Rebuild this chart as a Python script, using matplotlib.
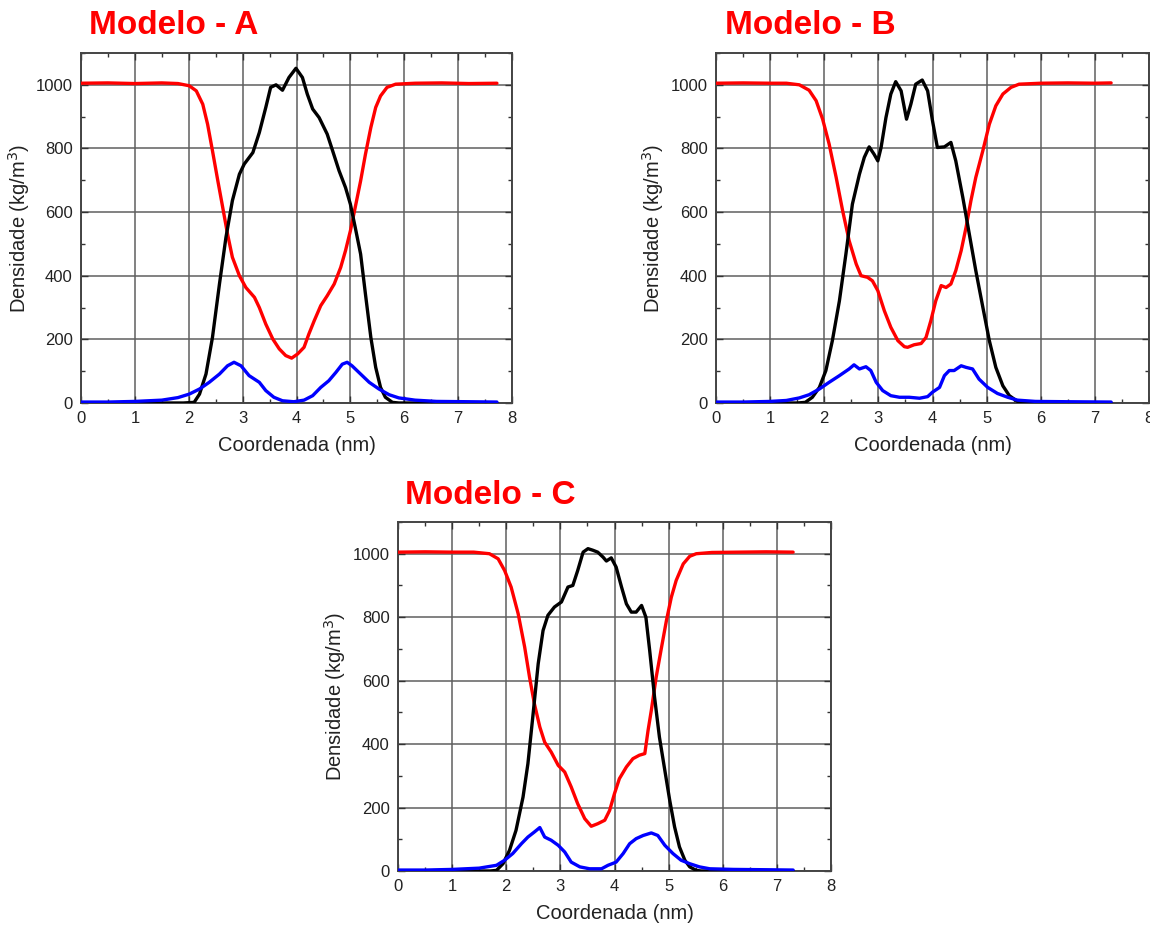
import matplotlib
matplotlib.use("Agg")
import matplotlib.pyplot as plt
from matplotlib.ticker import MultipleLocator

plt.rcParams['font.family'] = ['Liberation Sans', 'DejaVu Sans']

# ---------------- Modelo - A ----------------
a_agua_x = [0.0, 0.5, 1.0, 1.5, 1.8, 2.01, 2.14, 2.26, 2.35, 2.44, 2.54, 2.63, 2.72, 2.81,
            2.94, 3.06, 3.22, 3.31, 3.43, 3.56, 3.68, 3.80, 3.91, 4.02, 4.14, 4.23, 4.33,
            4.45, 4.57, 4.70, 4.82, 4.91, 5.00, 5.09, 5.19, 5.28, 5.38, 5.47, 5.56, 5.68,
            5.84, 6.2, 6.7, 7.2, 7.72]
a_agua_y = [1005, 1006, 1004, 1006, 1004, 997, 981, 939, 876, 793, 698, 615, 531, 458,
            400, 363, 332, 300, 248, 201, 170, 149, 141, 154, 175, 217, 259,
            306, 337, 374, 426, 479, 541, 615, 698, 782, 866, 929, 965, 992,
            1002, 1005, 1006, 1004, 1005]

a_nucleo_x = [0.0, 1.9, 2.1, 2.2, 2.32, 2.44, 2.57, 2.69, 2.81, 2.94, 3.03, 3.19, 3.31,
              3.43, 3.52, 3.62, 3.74, 3.86, 3.99, 4.11, 4.20, 4.30, 4.42, 4.57, 4.67,
              4.79, 4.91, 5.00, 5.09, 5.19, 5.28, 5.38, 5.47, 5.56, 5.65, 5.78, 5.9, 7.72]
a_nucleo_y = [0, 0, 2, 28, 91, 206, 374, 520, 636, 719, 751, 787, 850,
              929, 992, 1000, 983, 1023, 1052, 1023, 971, 924, 897, 845, 793,
              730, 677, 625, 552, 468, 342, 206, 112, 49, 18, 2, 0, 0]

a_interface_x = [0.0, 0.5, 1.0, 1.5, 1.8, 2.01, 2.2, 2.38, 2.57, 2.72, 2.84, 2.97, 3.12,
                 3.31, 3.43, 3.58, 3.74, 3.95, 4.14, 4.30, 4.45, 4.60, 4.73, 4.85, 4.94,
                 5.03, 5.19, 5.35, 5.53, 5.72, 5.90, 6.2, 6.6, 7.2, 7.72]
a_interface_y = [3, 3, 5, 9, 17, 28, 44, 65, 91, 117, 128, 117, 86,
                 65, 39, 18, 7, 4, 9, 23, 49, 70, 96, 122, 128,
                 117, 91, 65, 44, 26, 16, 9, 5, 4, 3]

# ---------------- Modelo - B ----------------
b_agua_x = [0.0, 0.5, 1.0, 1.3, 1.54, 1.72, 1.85, 1.97, 2.09, 2.22, 2.34, 2.46, 2.59,
            2.68, 2.80, 2.89, 2.99, 3.11, 3.23, 3.36, 3.48, 3.54, 3.66, 3.79, 3.88,
            3.97, 4.06, 4.16, 4.25, 4.34, 4.43, 4.53, 4.62, 4.71, 4.80, 4.93, 5.05,
            5.17, 5.30, 5.45, 5.60, 6.0, 6.5, 7.0, 7.3]
b_agua_y = [1005, 1006, 1005, 1005, 1000, 983, 950, 892, 814, 709, 604, 510, 437,
            400, 395, 384, 353, 290, 238, 196, 177, 175, 183, 187, 206,
            259, 321, 369, 363, 374, 416, 479, 552, 636, 709, 793, 876,
            934, 971, 992, 1002, 1005, 1006, 1005, 1006]

b_nucleo_x = [0.0, 1.5, 1.65, 1.78, 1.91, 2.03, 2.15, 2.28, 2.40, 2.52, 2.65, 2.74, 2.83,
              2.92, 2.99, 3.05, 3.14, 3.23, 3.32, 3.42, 3.52, 3.60, 3.69, 3.81, 3.91,
              4.00, 4.09, 4.22, 4.34, 4.43, 4.56, 4.68, 4.80, 4.93, 5.05, 5.17, 5.30,
              5.42, 5.57, 5.7, 7.3]
b_nucleo_y = [0, 0, 2, 18, 49, 102, 196, 321, 468, 625, 719, 772, 805,
              782, 761, 803, 897, 971, 1010, 981, 892, 939, 1002, 1015, 981,
              887, 803, 805, 819, 761, 646, 531, 416, 301, 196, 112, 54,
              23, 5, 0, 0]

b_interface_x = [0.0, 0.5, 1.0, 1.3, 1.54, 1.72, 1.91, 2.09, 2.28, 2.46, 2.55, 2.65, 2.77,
                 2.86, 2.96, 3.08, 3.23, 3.39, 3.57, 3.76, 3.91, 4.00, 4.13, 4.22, 4.31,
                 4.40, 4.53, 4.62, 4.74, 4.86, 5.02, 5.20, 5.39, 5.57, 5.9, 6.5, 7.3]
b_interface_y = [3, 3, 5, 8, 16, 26, 44, 65, 86, 107, 120, 107, 114,
                 102, 65, 39, 23, 18, 18, 15, 20, 34, 49, 86, 102,
                 102, 117, 112, 107, 75, 49, 30, 18, 9, 5, 4, 3]

# ---------------- Modelo - C ----------------
c_agua_x = [0.0, 0.5, 1.0, 1.4, 1.69, 1.85, 1.97, 2.09, 2.22, 2.34, 2.43, 2.52, 2.62,
            2.71, 2.83, 2.96, 3.08, 3.20, 3.32, 3.45, 3.57, 3.69, 3.82, 3.91, 4.00,
            4.09, 4.22, 4.34, 4.46, 4.56, 4.62, 4.68, 4.77, 4.87, 4.96, 5.05, 5.14,
            5.27, 5.39, 5.51, 5.8, 6.3, 6.8, 7.3]
c_agua_y = [1005, 1006, 1005, 1005, 1000, 984, 947, 895, 811, 706, 611, 527, 454,
            406, 375, 333, 312, 265, 212, 165, 141, 149, 160, 191, 244,
            291, 328, 354, 365, 370, 443, 506, 611, 706, 790, 863, 916,
            968, 992, 1000, 1004, 1005, 1006, 1005]

c_nucleo_x = [0.0, 1.7, 1.82, 1.94, 2.06, 2.18, 2.31, 2.40, 2.49, 2.59, 2.68, 2.77, 2.89,
              3.02, 3.14, 3.23, 3.32, 3.42, 3.51, 3.60, 3.69, 3.79, 3.85, 3.94, 4.03,
              4.13, 4.22, 4.31, 4.40, 4.50, 4.58, 4.65, 4.74, 4.83, 4.93, 5.02, 5.11,
              5.20, 5.30, 5.39, 5.51, 5.6, 7.3]
c_nucleo_y = [0, 0, 2, 23, 65, 128, 233, 338, 485, 653, 758, 806, 832,
              848, 895, 900, 947, 1005, 1016, 1011, 1005, 989, 977, 987, 958,
              895, 842, 816, 816, 837, 800, 695, 548, 422, 317, 223, 139,
              76, 34, 13, 2, 0, 0]

c_interface_x = [0.0, 0.5, 1.0, 1.5, 1.82, 1.97, 2.12, 2.28, 2.40, 2.52, 2.62, 2.71, 2.83,
                 2.96, 3.08, 3.20, 3.36, 3.54, 3.76, 3.88, 4.03, 4.16, 4.28, 4.40, 4.53,
                 4.68, 4.80, 4.93, 5.08, 5.23, 5.39, 5.57, 5.76, 6.2, 6.8, 7.3]
c_interface_y = [3, 3, 5, 9, 18, 34, 55, 86, 107, 123, 137, 107, 97,
                 81, 60, 28, 13, 7, 7, 18, 28, 55, 86, 102, 112,
                 120, 112, 81, 55, 34, 23, 13, 7, 5, 4, 3]

titles = ["Modelo - A", "Modelo - B", "Modelo - C"]
x_label = "Coordenada (nm)"
y_label = "Densidade (kg/m$^3$)"

fig = plt.figure(figsize=(11.5, 9.26), dpi=100)
W, H = 1150.0, 926.0


def make_axes(left, top, right, bottom):
    return fig.add_axes([left / W, 1 - bottom / H, (right - left) / W, (bottom - top) / H])


def draw_panel(ax, series):
    ax.grid(True, color='#5f5f5f', linewidth=1.1, zorder=0)
    for (x, y, color) in series:
        ax.plot(x, y, color=color, linewidth=2.4, solid_joinstyle='round',
                solid_capstyle='round', zorder=3)
    ax.set_xlim(0, 8)
    ax.set_ylim(0, 1100)
    ax.xaxis.set_major_locator(MultipleLocator(1))
    ax.xaxis.set_minor_locator(MultipleLocator(0.5))
    ax.yaxis.set_major_locator(MultipleLocator(200))
    ax.yaxis.set_minor_locator(MultipleLocator(100))
    ax.tick_params(which='both', direction='in', top=True, right=True,
                   color='#333333', labelcolor='#222222', labelsize=12)
    ax.tick_params(which='major', length=5, width=1.0, pad=6)
    ax.tick_params(which='minor', length=3, width=1.0)
    for sp in ax.spines.values():
        sp.set_color('#444444')
        sp.set_linewidth(1.4)
    ax.set_xlabel(x_label, fontsize=14.5, color='#222222', labelpad=7)
    ax.set_ylabel(y_label, fontsize=14.5, color='#222222', labelpad=3)


ax_a = make_axes(81, 53, 512, 403)
draw_panel(ax_a, [(a_agua_x, a_agua_y, '#ff0000'),
                  (a_nucleo_x, a_nucleo_y, '#000000'),
                  (a_interface_x, a_interface_y, '#0000ff')])

ax_b = make_axes(716, 53, 1149, 403)
draw_panel(ax_b, [(b_agua_x, b_agua_y, '#ff0000'),
                  (b_nucleo_x, b_nucleo_y, '#000000'),
                  (b_interface_x, b_interface_y, '#0000ff')])

ax_c = make_axes(398, 522, 831, 871)
draw_panel(ax_c, [(c_agua_x, c_agua_y, '#ff0000'),
                  (c_nucleo_x, c_nucleo_y, '#000000'),
                  (c_interface_x, c_interface_y, '#0000ff')])

title_kw = dict(color='#ff0000', fontsize=24, fontweight='bold', va='center', ha='left')
fig.text(89 / W, 1 - 26 / H, titles[0], **title_kw)
fig.text(725 / W, 1 - 26 / H, titles[1], **title_kw)
fig.text(405 / W, 1 - 495 / H, titles[2], **title_kw)

fig.savefig("out.png", dpi=100, facecolor='white')
